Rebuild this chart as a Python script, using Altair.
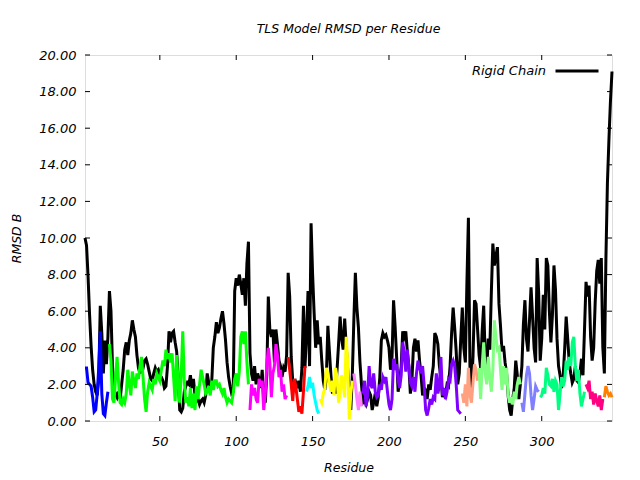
import altair as alt
import pandas as pd

# Rigid-chain RMSD per residue (residues 1..346)
rigid_chain = [
    10.0, 9.6, 7.9, 5.8, 4.1, 2.8, 2.0, 1.6, 1.4, 2.3,
    6.3, 4.8, 2.6, 4.4, 3.1, 4.6, 7.1, 6.0, 3.0, 1.4,
    1.5, 1.3, 1.6, 1.2, 2.0, 2.8, 3.9, 4.3, 3.6, 4.4,
    4.8, 5.5, 5.0, 4.6, 3.6, 2.9, 2.6, 3.1, 2.9, 3.3,
    3.4, 3.1, 2.7, 2.3, 2.2, 2.6, 2.9, 2.7, 2.8, 2.5,
    2.4, 2.2, 1.8, 1.9, 3.0, 4.9, 4.3, 4.8, 4.9, 4.3,
    3.8, 2.4, 0.6, 0.5, 0.7, 1.6, 1.9, 2.1, 2.0, 2.5,
    1.8, 2.3, 1.4, 1.1, 1.2, 0.9, 1.1, 1.2, 1.0, 1.4,
    2.6, 2.1, 1.9, 2.2, 4.0, 4.6, 5.4, 4.8, 5.1, 5.6,
    6.0, 5.3, 4.4, 3.2, 2.4, 1.9, 1.5, 1.6, 7.1, 7.8,
    7.4, 8.0, 7.5, 6.9, 7.8, 6.3, 8.6, 9.8, 3.7, 2.6,
    2.2, 3.0, 2.0, 2.6, 2.3, 1.8, 2.8, 1.2, 1.0, 2.5,
    6.8, 5.0, 4.6, 5.0, 3.2, 5.0, 4.2, 3.3, 3.0, 2.4,
    2.9, 2.7, 3.6, 8.1, 6.8, 3.5, 2.2, 1.9, 2.1, 1.8,
    2.2, 1.6, 2.9, 6.3, 2.9, 4.7, 7.1, 3.0, 10.8, 8.0,
    5.9, 4.0, 5.5, 4.2, 4.6, 3.3, 2.2, 1.7, 2.4, 5.2,
    3.8, 2.5, 1.5, 1.9, 1.5, 2.8, 4.2, 5.7, 4.5, 3.9,
    5.6, 4.1, 2.8, 1.6, 0.6, 2.5, 5.5, 8.1, 6.2, 5.1,
    3.2, 2.0, 1.0, 1.1, 0.9, 1.2, 1.6, 1.4, 0.6, 1.0,
    1.5, 0.8, 1.3, 2.4, 4.4, 4.8, 4.6, 4.7, 4.4, 4.0,
    2.8, 3.5, 6.6, 5.2, 3.5, 1.6, 2.2, 3.0, 4.9, 4.6,
    4.9, 3.8, 3.0, 1.5, 2.2, 4.0, 4.5, 3.8, 4.4, 3.3,
    2.5, 1.4, 1.8, 1.7, 1.2, 2.0, 1.7, 2.4, 3.0, 4.8,
    4.6, 4.2, 3.0, 2.4, 1.3, 1.6, 1.4, 2.0, 1.9, 3.0,
    4.8, 6.2, 5.1, 3.8, 2.0, 2.6, 4.5, 6.2, 4.0, 3.2,
    7.5, 11.1, 3.0, 1.8, 3.5, 6.6, 6.4, 5.0, 3.6, 2.9,
    4.9, 6.3, 3.5, 2.9, 4.5, 3.9, 7.0, 9.7, 8.5, 9.0,
    9.5, 6.4, 5.2, 3.8, 4.1, 3.2, 2.6, 1.4, 0.6, 0.3,
    1.2, 1.8, 3.3, 2.5, 1.2, 2.0, 3.0, 5.3, 6.6, 4.5,
    3.8, 5.5, 7.3, 5.7, 4.0, 3.2, 8.9, 7.0, 3.3, 4.5,
    6.9, 5.0, 8.9, 8.5, 6.0, 4.3, 5.8, 8.5, 7.2, 4.5,
    3.0, 2.5, 1.8, 2.4, 3.9, 5.7, 4.5, 3.2, 2.6, 2.1,
    2.3, 3.0, 2.2, 2.1, 2.6, 3.4, 2.5, 5.0, 7.6, 6.8,
    7.4, 4.6, 3.3, 4.0, 6.5, 8.2, 8.8, 7.5, 8.9, 4.0,
    2.6, 8.8, 13.0, 15.4, 17.5, 19.1,
]

# TLS group segments: name, first residue, colour, values
tls_names = ["g01", "g02", "g03", "g04", "g05", "g06", "g07",
             "g08", "g09", "g10", "g11", "g12", "g13", "g14"]
tls_starts = [1, 17, 109, 134, 146, 155, 177, 183, 248, 259, 287, 299, 329, 341]
tls_colors = ["#0000ff", "#00ff00", "#ff00ff", "#ff0000", "#00ffff", "#ffff00", "#ff80ff",
              "#8000ff", "#ffa080", "#80ff80", "#8080ff", "#00ff80", "#ff0080", "#ff8000"]
tls_values = [
    [2.9, 2.9, 2.1, 2.0, 1.9, 1.3, 0.5, 0.6, 1.5, 2.9, 4.9, 1.5, 0.4, 0.3, 1.0, 1.6],
    [4.2, 3.3, 1.2, 1.0, 2.4, 3.5, 2.1, 1.0, 0.9, 1.2,
     1.0, 1.5, 2.8, 2.0, 1.4, 2.7, 2.2, 1.8, 2.6, 2.3,
     3.0, 3.5, 2.4, 1.2, 0.5, 1.6, 2.1, 1.9, 1.7, 2.3,
     2.0, 2.6, 2.4, 2.2, 2.8, 3.3, 3.0, 3.9, 3.4, 3.7,
     3.2, 3.7, 2.4, 1.1, 3.6, 2.0, 1.0, 2.6, 4.9, 2.2,
     1.0, 1.3, 0.8, 1.8, 0.7, 1.5, 0.6, 1.9, 1.2, 2.0,
     2.8, 2.4, 2.0, 1.5, 1.6, 1.9, 1.4, 2.2, 1.7, 2.2,
     2.2, 1.9, 2.0, 1.7, 1.5, 1.8, 1.3, 1.0, 1.2, 1.1,
     1.0, 1.5, 2.3, 2.6, 1.9, 2.7, 4.6, 4.9, 4.2, 4.9, 3.2, 2.0],
    [0.6, 2.0, 1.4, 1.8, 1.2, 1.0, 2.3, 1.9, 2.2, 0.6, 1.5, 3.0, 4.0,
     3.2, 1.3, 2.6, 3.0, 4.2, 3.6, 2.4, 2.8, 1.6, 2.0, 1.2, 1.4],
    [3.5, 2.8, 2.0, 1.1, 2.3, 1.9, 1.2, 0.5, 0.8, 0.4, 1.6, 3.0],
    [1.6, 1.9, 2.4, 1.8, 2.1, 1.4, 1.0, 0.6, 0.4],
    [1.2, 1.0, 1.5, 1.8, 2.9, 2.6, 2.1, 1.6, 2.2, 1.4, 2.9,
     2.4, 1.0, 1.5, 2.5, 2.0, 1.3, 4.6, 3.2, 0.1, 1.5, 2.2],
    [2.6, 2.0, 1.2, 0.6, 1.6, 0.8],
    [1.5, 2.2, 0.8, 1.4, 3.0, 2.0, 1.8, 2.6, 1.6, 1.3,
     1.4, 2.0, 1.7, 2.4, 2.2, 2.4, 1.6, 0.9, 0.6, 1.2,
     3.4, 2.8, 3.1, 2.2, 1.8, 2.5, 4.3, 3.7, 2.7, 3.9,
     3.0, 2.1, 1.9, 2.4, 1.6, 2.6, 3.3, 2.9, 2.6, 3.0,
     2.0, 0.6, 0.3, 0.7, 1.2, 0.9, 1.3, 1.2, 2.6, 1.5,
     1.9, 3.5, 1.4, 1.8, 1.2, 1.6, 2.3, 2.2, 3.1, 3.3,
     3.0, 2.0, 0.6, 0.5, 0.4],
    [1.5, 1.0, 2.0, 0.8, 2.9, 1.4, 1.0, 2.1, 3.1, 2.8, 2.2],
    [2.9, 1.2, 3.0, 4.3, 2.6, 2.0, 3.5, 2.4, 1.6, 2.8,
     5.5, 4.6, 3.9, 4.0, 2.8, 1.7, 3.0, 2.0, 2.9, 1.4,
     1.0, 1.3, 0.9, 1.6, 1.2, 2.0, 2.4, 2.0],
    [1.0, 0.5, 1.5, 2.5, 3.0, 2.6, 1.4, 0.6, 1.2, 1.9, 1.7, 1.6],
    [1.3, 1.4, 1.8, 1.5, 2.9, 2.5, 2.0, 1.9, 2.3, 1.6,
     2.2, 2.0, 0.6, 1.5, 2.4, 1.9, 2.2, 3.3, 2.8, 3.5,
     3.0, 4.3, 4.6, 3.0, 2.2, 2.8, 1.5, 0.8, 1.2, 1.6],
    [2.0, 1.8, 2.2, 1.2, 1.6, 0.9, 1.5, 1.1, 0.8, 1.4, 0.6, 1.2],
    [1.3, 1.9, 1.6, 1.4, 1.5, 1.3],
]

x_ticks = [50, 100, 150, 200, 250, 300]
y_ticks = [0, 2, 4, 6, 8, 10, 12, 14, 16, 18, 20]

FONT = "DejaVu Sans"
PLOT_W, PLOT_H = 527, 366
TICK = 5

rigid_df = pd.DataFrame({
    "Residue": list(range(1, len(rigid_chain) + 1)),
    "RMSD": rigid_chain,
    "series": "Rigid Chain",
})

rows = []
for name, start, vals in zip(tls_names, tls_starts, tls_values):
    for i, v in enumerate(vals):
        rows.append({"Residue": start + i, "RMSD": v, "group": name})
tls_df = pd.DataFrame(rows)

xtick_df = pd.DataFrame({"Residue": x_ticks})
ytick_df = pd.DataFrame({"RMSD": y_ticks})

xs = alt.Scale(domain=[1, 346], nice=False, zero=False)
ys = alt.Scale(domain=[0, 20], nice=False, zero=True)

lab = dict(labelFont=FONT, labelFontSize=13, labelColor="black", labelFontStyle="italic",
           titleFont=FONT, titleFontSize=12.5, titleFontStyle="italic",
           titleFontWeight="normal", titleColor="black", labelOverlap=False,
           ticks=False, domain=False, grid=False)
x_axis = alt.Axis(orient="bottom", values=x_ticks, labelPadding=14,
                  title="Residue", titlePadding=13, **lab)
y_axis = alt.Axis(orient="left", values=y_ticks, format=".2f", labelPadding=9,
                  title="RMSD B", titlePadding=15, **lab)

X = alt.X("Residue:Q", scale=xs, axis=x_axis)
Y = alt.Y("RMSD:Q", scale=ys, axis=y_axis)

black = alt.Chart(rigid_df).mark_line(strokeWidth=3).encode(
    x=X, y=Y,
    stroke=alt.Stroke("series:N",
                      scale=alt.Scale(domain=["Rigid Chain"], range=["black"]),
                      legend=alt.Legend(title=None, orient="none", legendX=469, legendY=-7,
                                        symbolType="stroke", symbolSize=1849,
                                        symbolStrokeWidth=3, labelAlign="right",
                                        labelOffset={"expr": "-54"}, labelFont=FONT,
                                        labelFontSize=13, labelFontStyle="italic",
                                        labelColor="black")),
)

tls = alt.Chart(tls_df).mark_line(strokeWidth=3).encode(
    x=X, y=Y,
    color=alt.Color("group:N", scale=alt.Scale(domain=tls_names, range=tls_colors),
                    legend=None),
)

# inward tick marks on all four sides (gnuplot style mirrored ticks)
xt = alt.Chart(xtick_df).mark_rule(color="black", strokeWidth=1)
tick_bottom = xt.encode(x=X, y=alt.value(PLOT_H), y2=alt.value(PLOT_H - TICK))
tick_top = xt.encode(x=X, y=alt.value(0), y2=alt.value(TICK))
yt = alt.Chart(ytick_df).mark_rule(color="black", strokeWidth=1)
tick_left = yt.encode(y=Y, x=alt.value(0), x2=alt.value(TICK))
tick_right = yt.encode(y=Y, x=alt.value(PLOT_W - TICK), x2=alt.value(PLOT_W))

chart = alt.layer(black, tls, tick_bottom, tick_top, tick_left, tick_right).properties(
    width=PLOT_W, height=PLOT_H,
    title=alt.TitleParams("TLS Model RMSD per Residue", font=FONT, fontSize=12.5,
                          fontStyle="italic", fontWeight="normal", color="black",
                          offset=13),
    autosize=alt.AutoSizeParams(type="none"),
    padding={"left": 77, "top": 47, "right": 20, "bottom": 57},
).configure_view(stroke="black", strokeWidth=1).configure(background="white")

chart.save("out.html", embed_options={"renderer": "svg", "actions": False})
